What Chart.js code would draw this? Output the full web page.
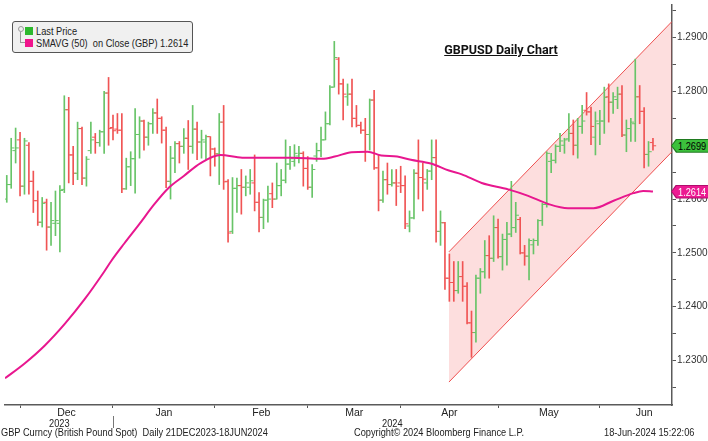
<!DOCTYPE html>
<html><head><meta charset="utf-8">
<script src="https://cdn.jsdelivr.net/npm/chart.js@4.4.1/dist/chart.umd.min.js"></script>
<style>
html,body{margin:0;padding:0;background:#fff;}
#wrap{position:relative;width:708px;height:441px;overflow:hidden;font-family:"Liberation Sans",sans-serif;color:#222;}
canvas{position:absolute;left:0;top:0;}
.t{position:absolute;white-space:pre;font-size:11px;line-height:12px;transform:scaleX(0.84);transform-origin:0 0;}
#legend{position:absolute;left:12px;top:21px;width:179px;height:30px;background:#f0f0f0;border:1px solid #555;border-radius:3px;}
.sq{position:absolute;width:8px;height:8px;}
#title{position:absolute;left:430px;top:42px;width:142px;text-align:center;font-family:Roboto,"Liberation Sans",sans-serif;font-weight:700;font-size:12.5px;text-decoration:underline;color:#111;}
.tag{position:absolute;left:671px;width:37px;height:14px;clip-path:polygon(0 50%,5px 0,100% 0,100% 100%,5px 100%);}
.tag span{position:absolute;left:7px;top:1px;font-size:11px;line-height:12px;white-space:pre;transform:scaleX(0.84);transform-origin:0 0;}
</style></head><body>
<div id="wrap">
<canvas id="c" width="708" height="441"></canvas>
<div id="legend">
  <div style="position:absolute;left:5px;top:4px;width:4px;height:4px;border:1px solid #999;border-radius:3px;"></div>
  <div style="position:absolute;left:7px;top:10px;width:4px;height:10px;border-left:1px solid #999;border-bottom:1px solid #999;"></div>
  <div class="sq" style="left:12px;top:5px;background:#2db82d;"></div>
  <div class="t" style="left:23px;top:3px;">Last Price</div>
  <div class="sq" style="left:12px;top:17px;background:#f0148c;"></div>
  <div class="t" style="left:23px;top:15px;">SMAVG (50)  on Close (GBP) 1.2614</div>
</div>
<div id="title">GBPUSD Daily Chart</div>
<div id="tagLast" class="tag" style="background:#1f7a1f;"><div style="position:absolute;left:1px;top:1px;right:0;bottom:1px;background:#3cc03c;clip-path:polygon(0 50%,5px 0,100% 0,100% 100%,5px 100%);"></div><span id="tagLastTxt" style="color:#000;"></span></div>
<div id="tagSma" class="tag" style="background:#b00c6c;"><div style="position:absolute;left:1px;top:1px;right:0;bottom:1px;background:#ec1a92;clip-path:polygon(0 50%,5px 0,100% 0,100% 100%,5px 100%);"></div><span id="tagSmaTxt" style="color:#fff;"></span></div>
<div id="yr0" class="t">2023</div>
<div id="yr1" class="t">2024</div>
<div id="yrSep" style="position:absolute;top:416px;width:1px;height:12px;background:#777;"></div>
<div class="t" style="left:1px;top:426px;">GBP Curncy (British Pound Spot)  Daily 21DEC2023-18JUN2024</div>
<div class="t" style="left:354px;top:426px;">Copyright© 2024 Bloomberg Finance L.P.</div>
<div class="t" style="left:604px;top:426px;">18-Jun-2024 15:22:06</div>
</div>
<script>
// ---- data (one entry per trading day, late Nov 2023 .. 18 Jun 2024) ----
const opens = [1.2600,1.2627,1.2690,1.2710,1.2624,1.2700,1.2633,1.2597,1.2557,1.2594,1.2548,1.2555,1.2555,1.2618,1.2766,1.2682,1.2648,1.2731,1.2639,1.2690,1.2715,1.2705,1.2725,1.2797,1.2733,
1.2730,1.2728,1.2619,1.2660,1.2675,1.2720,1.2745,1.2715,1.2740,1.2760,1.2750,1.2728,1.2633,1.2676,1.2703,1.2698,1.2713,1.2698,1.2730,1.2706,1.2706,1.2716,1.2693,
1.2684,1.2743,1.2633,1.2540,1.2620,1.2625,1.2622,1.2622,1.2630,1.2594,1.2566,1.2598,1.2610,1.2600,1.2625,1.2635,1.2665,1.2670,1.2680,1.2685,1.2657,
1.2622,1.2680,1.2690,1.2710,1.2740,1.2808,1.2860,1.2814,1.2790,1.2795,1.2750,1.2737,1.2728,1.2720,1.2784,1.2658,1.2598,1.2636,1.2627,1.2630,1.2630,
1.2625,1.2550,1.2565,1.2648,1.2640,1.2630,1.2652,1.2677,1.2540,1.2556,1.2453,1.2445,1.2430,1.2456,1.2438,1.2370,1.2352,1.2453,1.2465,1.2495,1.2490,1.2547,
1.2493,1.2525,1.2535,1.2547,1.2562,1.2500,1.2494,1.2515,1.2523,1.2560,1.2590,1.2670,1.2672,1.2698,1.2700,1.2712,1.2722,1.2700,1.2735,1.2765,1.2762,1.2715,1.2740,
1.2745,1.2790,1.2780,1.2785,1.2795,1.2719,1.2731,1.2740,1.2790,1.2763,1.2683,1.2705];
const highs = [1.2644,1.2713,1.2732,1.2724,1.2713,1.2705,1.2652,1.2615,1.2603,1.2600,1.2594,1.2615,1.2625,1.2792,1.2789,1.2698,1.2743,1.2734,1.2679,1.2743,1.2722,1.2728,1.2800,1.2826,1.2756,
1.2759,1.2759,1.2676,1.2688,1.2768,1.2753,1.2747,1.2743,1.2768,1.2786,1.2753,1.2734,1.2698,1.2707,1.2707,1.2731,1.2746,1.2774,1.2743,1.2728,1.2719,1.2716,1.2695,
1.2759,1.2774,1.2636,1.2640,1.2639,1.2655,1.2643,1.2655,1.2682,1.2612,1.2600,1.2624,1.2630,1.2667,1.2655,1.2710,1.2698,1.2701,1.2698,1.2688,1.2679,
1.2664,1.2704,1.2734,1.2762,1.2811,1.2893,1.2863,1.2823,1.2814,1.2823,1.2774,1.2743,1.2750,1.2786,1.2802,1.2682,1.2652,1.2667,1.2655,1.2655,1.2661,
1.2643,1.2578,1.2655,1.2710,1.2667,1.2655,1.2710,1.2710,1.2578,1.2557,1.2498,1.2484,1.2484,1.2484,1.2445,1.2392,1.2459,1.2471,1.2523,1.2532,1.2569,1.2563,
1.2535,1.2557,1.2633,1.2594,1.2566,1.2514,1.2526,1.2526,1.2562,1.2592,1.2688,1.2685,1.2701,1.2722,1.2713,1.2759,1.2747,1.2750,1.2774,1.2798,1.2771,1.2762,1.2765,
1.2808,1.2814,1.2798,1.2808,1.2811,1.2747,1.2750,1.2860,1.2811,1.2770,1.2707,1.2713];
const lows = [1.2594,1.2620,1.2667,1.2606,1.2609,1.2609,1.2575,1.2551,1.2548,1.2505,1.2514,1.2532,1.2502,1.2612,1.2630,1.2627,1.2636,1.2627,1.2624,1.2685,1.2685,1.2698,1.2685,1.2700,1.2710,
1.2722,1.2612,1.2618,1.2625,1.2611,1.2676,1.2691,1.2700,1.2722,1.2722,1.2704,1.2621,1.2600,1.2649,1.2667,1.2685,1.2655,1.2685,1.2673,1.2676,1.2673,1.2643,1.2661,
1.2627,1.2618,1.2520,1.2536,1.2575,1.2572,1.2606,1.2609,1.2578,1.2539,1.2545,1.2557,1.2584,1.2600,1.2606,1.2630,1.2655,1.2661,1.2667,1.2624,1.2618,
1.2603,1.2670,1.2679,1.2710,1.2738,1.2808,1.2795,1.2747,1.2774,1.2734,1.2734,1.2722,1.2670,1.2691,1.2655,1.2578,1.2594,1.2609,1.2624,1.2588,1.2612,
1.2545,1.2539,1.2563,1.2600,1.2578,1.2618,1.2636,1.2520,1.2514,1.2432,1.2410,1.2410,1.2425,1.2410,1.2368,1.2306,1.2334,1.2425,1.2453,1.2453,1.2484,1.2490,
1.2468,1.2477,1.2530,1.2538,1.2498,1.2477,1.2450,1.2498,1.2514,1.2551,1.2585,1.2649,1.2667,1.2688,1.2685,1.2707,1.2682,1.2676,1.2722,1.2756,1.2701,1.2682,1.2701,
1.2722,1.2743,1.2759,1.2768,1.2716,1.2688,1.2707,1.2707,1.2740,1.2658,1.2661,1.2691];
const closes = [1.2627,1.2695,1.2695,1.2624,1.2708,1.2633,1.2597,1.2557,1.2592,1.2548,1.2560,1.2560,1.2616,1.2766,1.2682,1.2648,1.2731,1.2639,1.2674,1.2710,1.2705,1.2725,1.2797,1.2731,1.2727,
1.2728,1.2619,1.2660,1.2675,1.2720,1.2745,1.2715,1.2740,1.2760,1.2750,1.2728,1.2633,1.2676,1.2703,1.2698,1.2713,1.2698,1.2730,1.2706,1.2710,1.2716,1.2693,1.2684,
1.2743,1.2632,1.2537,1.2620,1.2625,1.2622,1.2630,1.2634,1.2594,1.2566,1.2598,1.2600,1.2600,1.2625,1.2635,1.2665,1.2675,1.2685,1.2685,1.2657,1.2622,
1.2655,1.2690,1.2710,1.2740,1.2808,1.2863,1.2814,1.2795,1.2795,1.2750,1.2737,1.2728,1.2720,1.2784,1.2658,1.2598,1.2636,1.2627,1.2630,1.2624,1.2625,
1.2554,1.2565,1.2648,1.2640,1.2637,1.2652,1.2677,1.2540,1.2556,1.2453,1.2445,1.2430,1.2456,1.2438,1.2370,1.2352,1.2453,1.2465,1.2495,1.2490,1.2547,1.2493,
1.2525,1.2535,1.2547,1.2570,1.2500,1.2494,1.2523,1.2523,1.2560,1.2590,1.2685,1.2672,1.2698,1.2708,1.2710,1.2722,1.2700,1.2735,1.2745,1.2762,1.2735,1.2745,1.2745,
1.2789,1.2780,1.2790,1.2795,1.2719,1.2731,1.2743,1.2790,1.2763,1.2683,1.2688,1.2699];

// 50-day moving average (day index, value)
const smaDay = [-0.4,4.1,8.6,13.1,17.6,22.0,23.6,26.5,29.9,33.3,36.6,40.0,43.8,48.3,53.2,58.4,64.4,71.2,74.1,77.9,81.5,84.6,88.2,91.3,95.8,99.9,102.8,107.3,113.3,117.8,122.3,126.8,132.6,137.1,141.6,143.8,146.0];
const smaVal = [1.2267,1.2295,1.2328,1.2368,1.2414,1.2465,1.2485,1.2517,1.2553,1.2590,1.2621,1.2643,1.2667,1.2682,1.2677,1.2677,1.2677,1.2675,1.2679,1.2687,1.2688,1.2681,1.2679,1.2673,1.2666,1.2653,1.2646,1.2630,1.2618,1.2606,1.2591,1.2583,1.2583,1.2597,1.2611,1.2615,1.2614];

// trend channel (day index, upper, lower)
const channelDay = [99.9, 150.3];
const channelUpper = [1.2502, 1.2930];
const channelLower = [1.2260, 1.2688];

// axis labels: month boundaries in trading-day index (last entry = end of June)
const monthNames = ['Dec','Jan','Feb','Mar','Apr','May','Jun'];
const monthBounds = [3, 24, 47, 68, 89, 111, 134, 154];
const yearNames = ['2023','2024'];
const yearStart = 24;
const priceTicks = [1.225,1.230,1.235,1.240,1.245,1.250,1.255,1.260,1.265,1.270,1.275,1.280,1.285,1.290,1.295];

// ---- build ----
const X_MIN = -0.4, X_MAX = 150.3;
const GREEN = 'rgb(104,196,104)', RED = 'rgb(240,84,84)';
const days = closes.map((c,i)=>i);
const colr = days.map(i => closes[i] >= opens[i] ? GREEN : RED);
const tickOff = 0.36;

const xTickList = [];
const xLabelMap = {};
const boundarySet = new Set();
monthNames.forEach((name,k)=>{
  const v = monthBounds[k];
  xTickList.push(v); boundarySet.add(v.toFixed(3));
  const mid = (v + monthBounds[k+1])/2;
  xTickList.push(mid);
  xLabelMap[mid.toFixed(3)] = name;
});
xTickList.sort((a,b)=>a-b);

Chart.defaults.font.family = '"Liberation Sans",sans-serif';
Chart.defaults.font.size = 10;
Chart.defaults.color = '#222';

const chart = new Chart(document.getElementById('c'), {
  type: 'bar',
  data: {
    datasets: [
      { type:'line', label:'chanU', data: channelDay.map((d,k)=>({x:d,y:channelUpper[k]})), borderColor:'rgb(238,80,80)', borderWidth:1, backgroundColor:'rgba(245,60,60,0.17)', fill:'+1', pointRadius:0, order:10 },
      { type:'line', label:'chanL', data: channelDay.map((d,k)=>({x:d,y:channelLower[k]})), borderColor:'rgb(238,80,80)', borderWidth:1, fill:false, pointRadius:0, order:10 },
      { type:'bar', label:'range', data: days.map(i=>({x:i, y:[lows[i], highs[i]]})), backgroundColor: colr, borderWidth:0, barThickness:1, order:3 },
      { type:'scatter', label:'open', data: days.map(i=>({x:i-tickOff, y:opens[i]})), pointStyle:'line', pointRadius:1.6, pointBorderWidth:1, borderColor: colr, pointBorderColor: colr, order:2 },
      { type:'scatter', label:'close', data: days.map(i=>({x:i+tickOff, y:closes[i]})), pointStyle:'line', pointRadius:1.6, pointBorderWidth:1, borderColor: colr, pointBorderColor: colr, order:2 },
      { type:'line', label:'SMAVG (50)', data: smaDay.map((d,k)=>({x:d,y:smaVal[k]})), borderColor:'#e8178f', borderWidth:2, pointRadius:0, cubicInterpolationMode:'monotone', fill:false, order:0 }
    ]
  },
  options: {
    responsive:false, animation:false, devicePixelRatio:1,
    layout:{padding:0},
    plugins:{legend:{display:false}, tooltip:{enabled:false}},
    scales:{
      x:{
        type:'linear', position:'bottom', min:X_MIN, max:X_MAX, offset:false,
        afterBuildTicks: s => { s.ticks = xTickList.map(v=>({value:v})); },
        afterFit: s => { s.height = 36; s.paddingLeft = 0; s.paddingRight = 0; },
        ticks:{ autoSkip:false, maxRotation:0, padding:-1, color:'#222', font:{size:10.5},
          callback: v => xLabelMap[Number(v).toFixed(3)] || '' },
        grid:{ offset:false, drawOnChartArea:false, drawTicks:true, tickLength:3,
          tickColor: ctx => (ctx.tick && boundarySet.has(Number(ctx.tick.value).toFixed(3))) ? '#555' : 'rgba(0,0,0,0)' },
        border:{ display:true, color:'#5a5a5a', width:1.5 }
      },
      y:{
        type:'linear', position:'right', min:1.22174, max:1.29606,
        afterBuildTicks: s => { s.ticks = priceTicks.map(v=>({value:v})); },
        afterFit: s => { s.width = 36; s.paddingTop = 0; s.paddingBottom = 0; },
        ticks:{ padding:1, color:'#333', font:{size:10},
          callback: v => (Math.round(v*200) % 2 === 0) ? Number(v).toFixed(4) : '' },
        grid:{ drawOnChartArea:false, drawTicks:true, tickLength:4, tickColor:'#555' },
        border:{ display:true, color:'#5a5a5a', width:1.5 }
      }
    }
  }
});

// tags and year row, positioned with the chart's own scales
const ys = chart.scales.y, xs = chart.scales.x;
const lastClose = closes[closes.length-1], lastSma = smaVal[smaVal.length-1];
document.getElementById('tagLast').style.top = (ys.getPixelForValue(lastClose) - 7) + 'px';
document.getElementById('tagLastTxt').textContent = lastClose.toFixed(4);
document.getElementById('tagSma').style.top = (ys.getPixelForValue(lastSma) - 7) + 'px';
document.getElementById('tagSmaTxt').textContent = lastSma.toFixed(4);

const y0 = document.getElementById('yr0'), y1 = document.getElementById('yr1');
y0.textContent = yearNames[0]; y1.textContent = yearNames[1];
y0.style.top = y1.style.top = '417px';
const c0 = (xs.getPixelForValue(X_MIN) + xs.getPixelForValue(yearStart))/2;
const c1 = (xs.getPixelForValue(yearStart) + xs.getPixelForValue(X_MAX))/2;
y0.style.left = (c0 - y0.offsetWidth*0.84/2) + 'px';
y1.style.left = (c1 - y1.offsetWidth*0.84/2) + 'px';
document.getElementById('yrSep').style.left = Math.round(xs.getPixelForValue(yearStart)) + 'px';
</script>
</body></html>
